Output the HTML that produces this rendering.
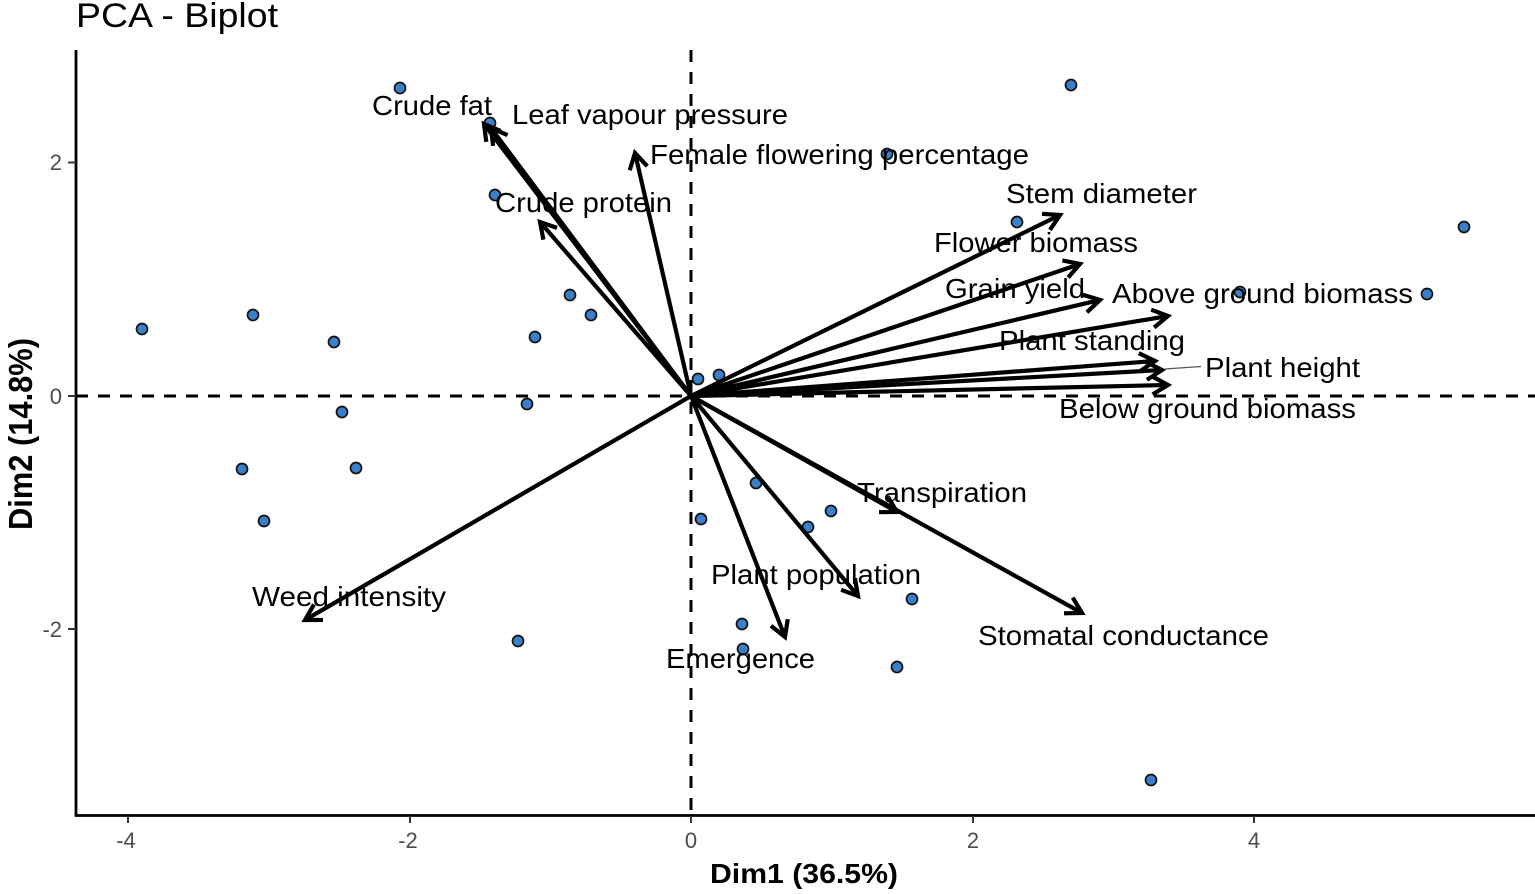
<!DOCTYPE html>
<html>
<head>
<meta charset="utf-8">
<style>
  html, body { margin:0; padding:0; background:#fff; }
  svg { display:block; }
  text { font-family: "Liberation Sans", Arial, sans-serif; }
</style>
</head>
<body>
<svg width="1535" height="894" viewBox="0 0 1535 894" xmlns="http://www.w3.org/2000/svg">
  <rect x="0" y="0" width="1535" height="894" fill="#fff"/>

  <!-- Title -->
  <text x="76" y="27" font-size="34" fill="#000" textLength="202" lengthAdjust="spacingAndGlyphs">PCA - Biplot</text>

  <!-- Dashed reference lines -->
  <line x1="76" y1="396" x2="1535" y2="396" stroke="#000" stroke-width="3" stroke-dasharray="12,10"/>
  <line x1="691" y1="50" x2="691" y2="815" stroke="#000" stroke-width="3" stroke-dasharray="12,10"/>

  <!-- Axes -->
  <line x1="76" y1="50" x2="76" y2="816.5" stroke="#000" stroke-width="2.8"/>
  <line x1="74.7" y1="815.5" x2="1535" y2="815.5" stroke="#000" stroke-width="2.8"/>

  <!-- Y ticks -->
  <g stroke="#333" stroke-width="2">
    <line x1="68" y1="162.5" x2="76" y2="162.5"/>
    <line x1="68" y1="396" x2="76" y2="396"/>
    <line x1="68" y1="629" x2="76" y2="629"/>
  </g>
  <g font-size="22" fill="#4d4d4d" text-anchor="end">
    <text x="62" y="170">2</text>
    <text x="62" y="404">0</text>
    <text x="62" y="637">-2</text>
  </g>

  <!-- X ticks -->
  <g stroke="#333" stroke-width="2">
    <line x1="128" y1="816" x2="128" y2="823"/>
    <line x1="410" y1="816" x2="410" y2="823"/>
    <line x1="691" y1="816" x2="691" y2="823"/>
    <line x1="973" y1="816" x2="973" y2="823"/>
    <line x1="1254" y1="816" x2="1254" y2="823"/>
  </g>
  <g font-size="22" fill="#4d4d4d" text-anchor="middle">
    <text x="126" y="848">-4</text>
    <text x="408" y="848">-2</text>
    <text x="691" y="848">0</text>
    <text x="973" y="848">2</text>
    <text x="1254" y="848">4</text>
  </g>

  <!-- Axis titles -->
  <text x="710" y="883" font-size="28" font-weight="bold" fill="#000" textLength="188" lengthAdjust="spacingAndGlyphs">Dim1 (36.5%)</text>
  <text transform="translate(32,530) rotate(-90)" x="0" y="0" font-size="33" font-weight="bold" fill="#000" textLength="192" lengthAdjust="spacingAndGlyphs">Dim2 (14.8%)</text>

  <!-- Points -->
  <g fill="#3a7fc8" stroke="#111" stroke-width="1.7">
    <circle cx="400" cy="88" r="5.5"/>
    <circle cx="1071" cy="85" r="5.5"/>
    <circle cx="887" cy="154" r="5.5"/>
    <circle cx="490" cy="123" r="5.5"/>
    <circle cx="495" cy="195" r="5.5"/>
    <circle cx="1017" cy="222" r="5.5"/>
    <circle cx="1464" cy="227" r="5.5"/>
    <circle cx="1240" cy="292" r="5.5"/>
    <circle cx="1427" cy="294" r="5.5"/>
    <circle cx="570" cy="295" r="5.5"/>
    <circle cx="591" cy="315" r="5.5"/>
    <circle cx="535" cy="337" r="5.5"/>
    <circle cx="142" cy="329" r="5.5"/>
    <circle cx="253" cy="315" r="5.5"/>
    <circle cx="334" cy="342" r="5.5"/>
    <circle cx="698" cy="379" r="5.5"/>
    <circle cx="719" cy="375" r="5.5"/>
    <circle cx="342" cy="412" r="5.5"/>
    <circle cx="527" cy="404" r="5.5"/>
    <circle cx="242" cy="469" r="5.5"/>
    <circle cx="356" cy="468" r="5.5"/>
    <circle cx="264" cy="521" r="5.5"/>
    <circle cx="756" cy="483" r="5.5"/>
    <circle cx="701" cy="519" r="5.5"/>
    <circle cx="831" cy="511" r="5.5"/>
    <circle cx="808" cy="527" r="5.5"/>
    <circle cx="912" cy="599" r="5.5"/>
    <circle cx="742" cy="624" r="5.5"/>
    <circle cx="743" cy="649" r="5.5"/>
    <circle cx="897" cy="667" r="5.5"/>
    <circle cx="518" cy="641" r="5.5"/>
    <circle cx="1151" cy="780" r="5.5"/>
  </g>

  <!-- Arrows -->
  <g id="arrows" stroke="#000" stroke-width="4.2" fill="none" stroke-linecap="butt" stroke-linejoin="miter"></g>

  <!-- connector for Plant height -->
  <line x1="1165" y1="369" x2="1201" y2="366.5" stroke="#555" stroke-width="1.2"/>

  <!-- Variable labels -->
  <g font-size="28" fill="#000">
    <text x="372" y="115" textLength="120" lengthAdjust="spacingAndGlyphs">Crude fat</text>
    <text x="512" y="124" textLength="276" lengthAdjust="spacingAndGlyphs">Leaf vapour pressure</text>
    <text x="650" y="164" textLength="379" lengthAdjust="spacingAndGlyphs">Female flowering percentage</text>
    <text x="495" y="212" textLength="177" lengthAdjust="spacingAndGlyphs">Crude protein</text>
    <text x="1006" y="203" textLength="191" lengthAdjust="spacingAndGlyphs">Stem diameter</text>
    <text x="934" y="252" textLength="204" lengthAdjust="spacingAndGlyphs">Flower biomass</text>
    <text x="945" y="298" textLength="140" lengthAdjust="spacingAndGlyphs">Grain yield</text>
    <text x="1112" y="303" textLength="301" lengthAdjust="spacingAndGlyphs">Above ground biomass</text>
    <text x="999" y="350" textLength="186" lengthAdjust="spacingAndGlyphs">Plant standing</text>
    <text x="1205" y="377" textLength="155" lengthAdjust="spacingAndGlyphs">Plant height</text>
    <text x="1059" y="418" textLength="297" lengthAdjust="spacingAndGlyphs">Below ground biomass</text>
    <text x="857" y="502" textLength="170" lengthAdjust="spacingAndGlyphs">Transpiration</text>
    <text x="711" y="584" textLength="210" lengthAdjust="spacingAndGlyphs">Plant population</text>
    <text x="666" y="668" textLength="149" lengthAdjust="spacingAndGlyphs">Emergence</text>
    <text x="978" y="645" textLength="291" lengthAdjust="spacingAndGlyphs">Stomatal conductance</text>
    <text x="252" y="606" textLength="194" lengthAdjust="spacingAndGlyphs">Weed intensity</text>
  </g>

  <script>
    (function(){
      var ox=691, oy=396;
      var tips=[[484,124],[491,128],[540,222],[635,153],[1060,215],[1080,264],[1100,300],[1168,316],[1155,361],[1162,370],[1168,385],[897,512],[1082,613],[858,596],[785,637],[305,620]];
      var g=document.getElementById('arrows');
      var ns='http://www.w3.org/2000/svg';
      tips.forEach(function(t){
        var dx=t[0]-ox, dy=t[1]-oy, L=Math.sqrt(dx*dx+dy*dy);
        var ux=dx/L, uy=dy/L;
        var l=document.createElementNS(ns,'line');
        l.setAttribute('x1',ox);l.setAttribute('y1',oy);
        l.setAttribute('x2',t[0]-ux*1.5);l.setAttribute('y2',t[1]-uy*1.5);
        g.appendChild(l);
        var h=18, a=Math.PI/6;
        var ang=Math.atan2(uy,ux);
        var p1=[t[0]-h*Math.cos(ang-a), t[1]-h*Math.sin(ang-a)];
        var p2=[t[0]-h*Math.cos(ang+a), t[1]-h*Math.sin(ang+a)];
        var pl=document.createElementNS(ns,'polyline');
        pl.setAttribute('points',p1.join(',')+' '+t.join(',')+' '+p2.join(','));
        g.appendChild(pl);
      });
    })();
  </script>
</svg>
</body>
</html>
